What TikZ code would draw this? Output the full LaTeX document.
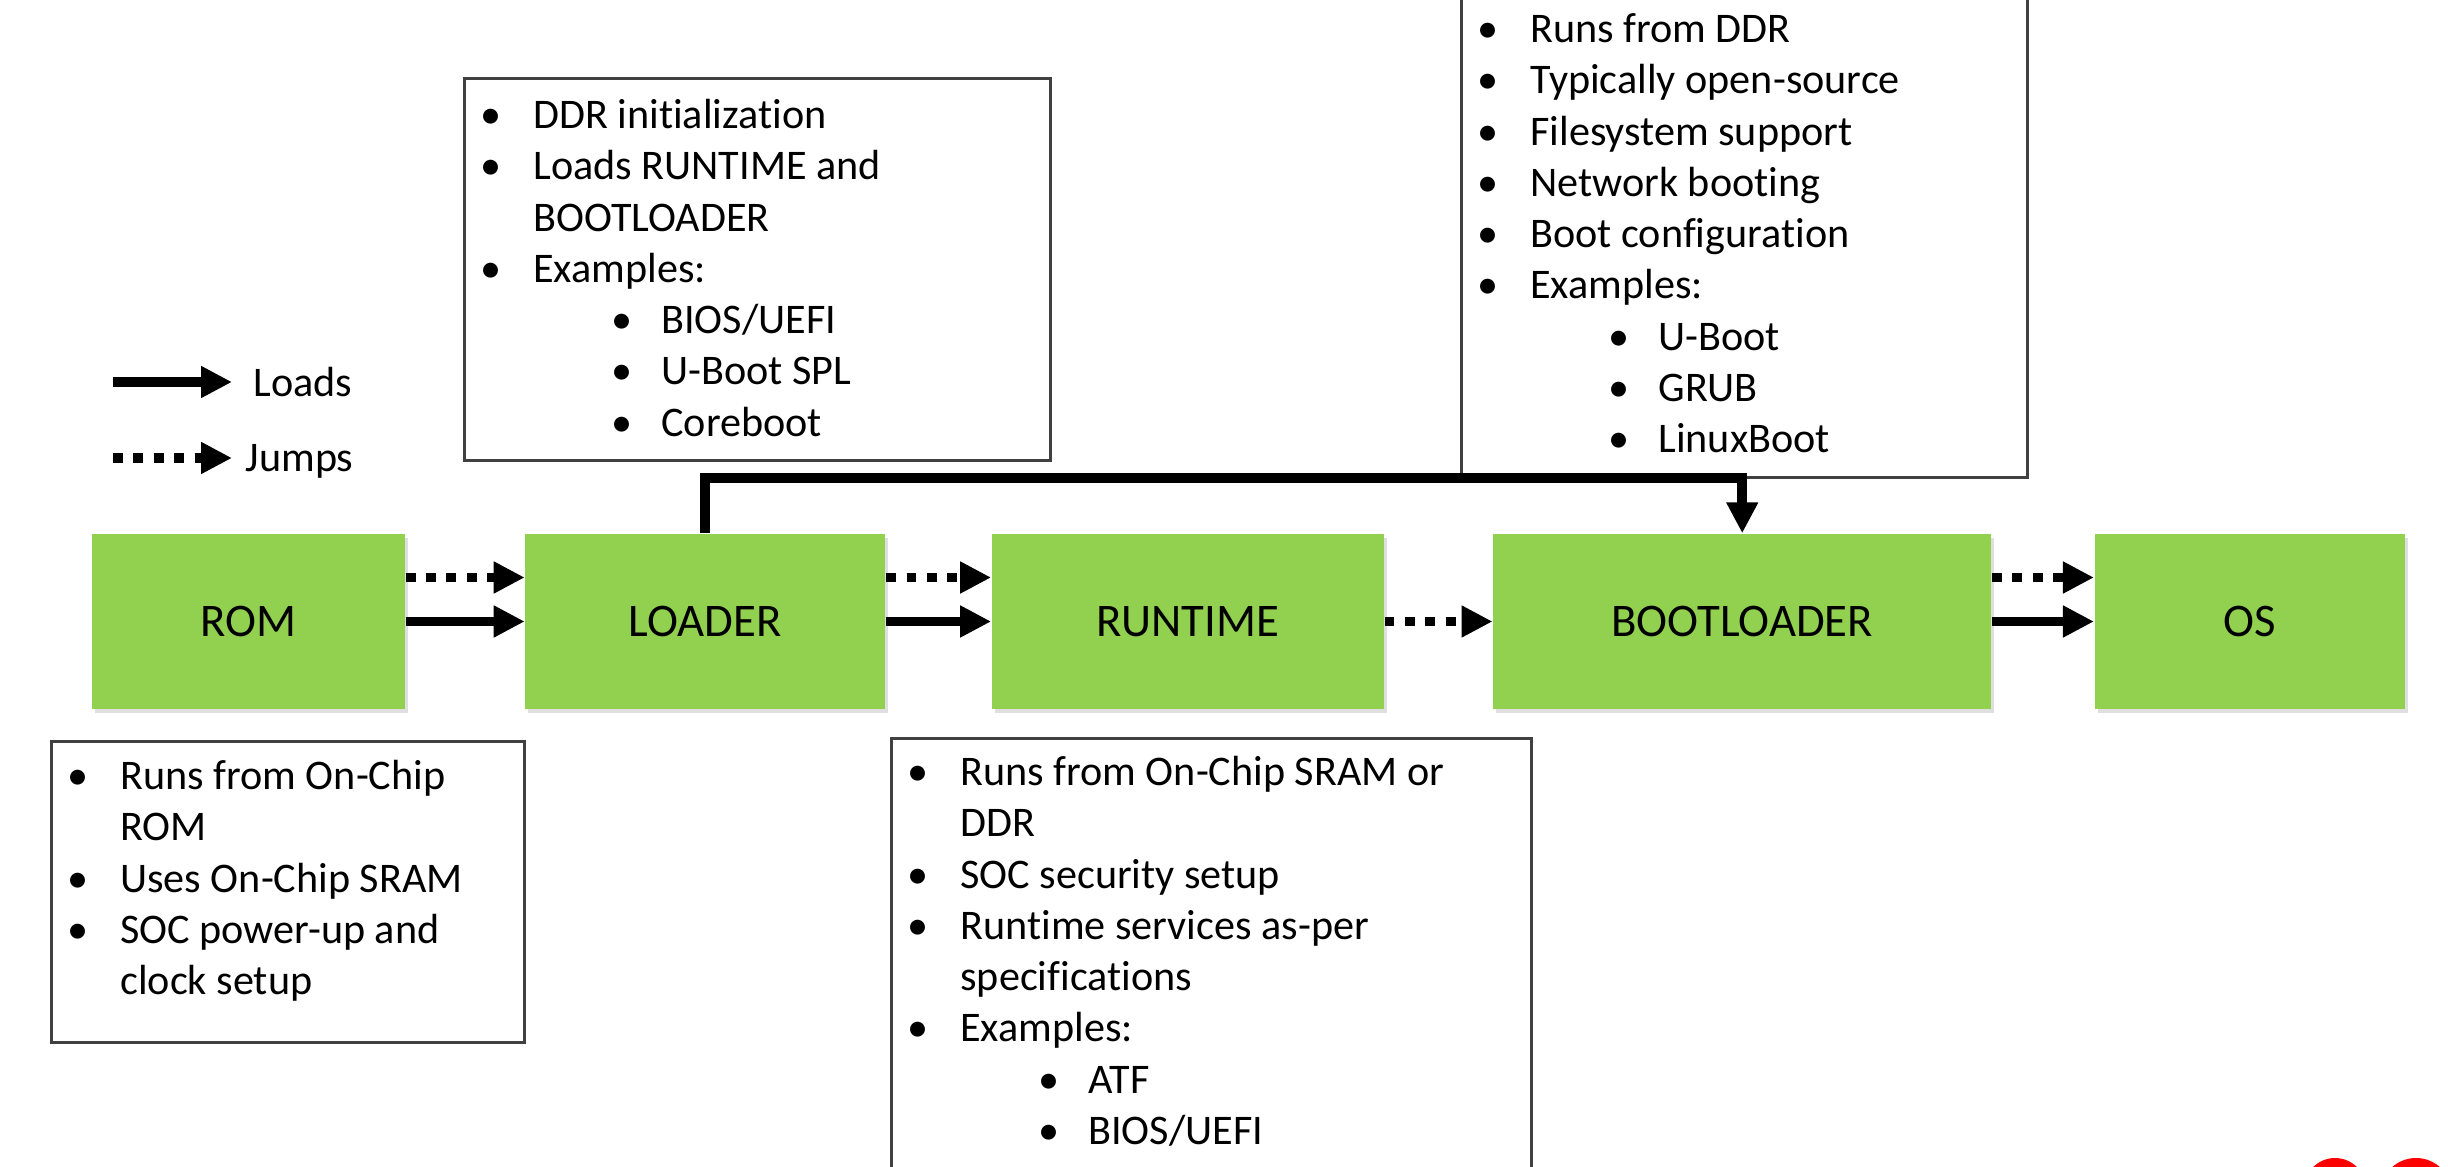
\documentclass[tikz,border=0pt]{standalone}
\usepackage{fontspec}
\setmainfont{Carlito}[Ligatures=NoCommon]
\usepackage{tikz}
\usetikzlibrary{calc,positioning,shapes,shadows,arrows.meta}
\definecolor{bootgreen}{HTML}{92D050}
\newcommand{\noteitem}[1]{\makebox[0.69cm][l]{\makebox[0.54cm][c]{\textbullet}}#1}
\newcommand{\notemore}[1]{\hspace*{0.69cm}#1}
\newcommand{\notesub}[1]{\hspace*{1.31cm}\makebox[0.66cm][l]{\makebox[0.54cm][c]{\textbullet}}#1}
\tikzset{
	stage/.style={fill=bootgreen,minimum height=1.75cm,inner sep=0,font=\fontsize{13.3}{16}\selectfont,drop shadow={shadow xshift=0.03cm,shadow yshift=-0.04cm,opacity=0.25}},
	note/.style={draw=black!75,line width=0.8pt,inner sep=0,anchor=north west,align=flush left,font=\fontsize{12}{14.6}\selectfont},
	legendtext/.style={inner sep=0,text depth=0pt,font=\fontsize{12}{14.6}\selectfont},
	loadarrow/.style={line width=2.8pt,-{Triangle[length=0.31cm,width=0.3cm]}},
	jumparrow/.style={loadarrow,dash pattern=on 2.8pt off 3pt}
}

\begin{document}
\begin{tikzpicture}
	\useasboundingbox (0,0) rectangle (24.48,-11.67);
	\clip (0,0) rectangle (24.48,-11.67);
	\node(rom) [stage,minimum width=3.13cm] at (2.485,-6.215) {ROM};
	\node(loader) [stage,minimum width=3.6cm,right=1.19 of rom] {LOADER};
	\node(runtime) [stage,minimum width=3.92cm,right=1.05 of loader] {RUNTIME};
	\node(bootloader) [stage,minimum width=4.98cm,right=1.08 of runtime] {BOOTLOADER};
	\node(os) [stage,minimum width=3.1cm,right=1.02 of bootloader] {OS};

	\node(loadernote) [note,text width=5.86cm,text height=0.5cm,text depth=3.32cm] at (4.63,-0.77) {
		\noteitem{DDR initialization}\\
		\noteitem{Loads RUNTIME and}\\
		\notemore{BOOTLOADER}\\
		\noteitem{Examples:}\\
		\notesub{BIOS/UEFI}\\
		\notesub{U-Boot SPL}\\
		\notesub{Coreboot}};
	\node(bootnote) [note,text width=5.66cm,text height=0.71cm,text depth=4.35cm] at (14.60,0.3) {
		\noteitem{Runs from DDR}\\
		\noteitem{Typically open-source}\\
		\noteitem{Filesystem support}\\
		\noteitem{Network booting}\\
		\noteitem{Boot configuration}\\
		\noteitem{Examples:}\\
		\notesub{U-Boot}\\
		\notesub{GRUB}\\
		\notesub{LinuxBoot}};
	\node(romnote) [note,text width=4.73cm,text height=0.48cm,text depth=2.53cm] at (0.50,-7.40) {
		\noteitem{Runs from On-Chip}\\
		\notemore{ROM}\\
		\noteitem{Uses On-Chip SRAM}\\
		\noteitem{SOC power-up and}\\
		\notemore{clock setup}};
	\node(runnote) [note,text width=6.40cm,text height=0.47cm,text depth=4.2cm] at (8.90,-7.37) {
		\noteitem{Runs from On-Chip SRAM or}\\
		\notemore{DDR}\\
		\noteitem{SOC security setup}\\
		\noteitem{Runtime services as-per}\\
		\notemore{specifications}\\
		\noteitem{Examples:}\\
		\notesub{ATF}\\
		\notesub{BIOS/UEFI}};

	\coordinate (ls) at (1.13,-3.82);
	\coordinate (le) at (2.32,-3.82);
	\draw[loadarrow] (ls) -- (le);
	\node(loads) [legendtext,right=0.21 of le] {Loads};
	\coordinate (js) at (1.13,-4.58);
	\coordinate (je) at (2.32,-4.58);
	\draw[jumparrow] (js) -- (je);
	\node(jumps) [legendtext,right=0.13 of je] {Jumps};

	\draw[jumparrow] ([yshift=0.44cm]rom.east) -- ([yshift=0.44cm]loader.west);
	\draw[loadarrow] (rom) -- (loader);
	\draw[jumparrow] ([yshift=0.44cm]loader.east) -- ([yshift=0.44cm]runtime.west);
	\draw[loadarrow] (loader) -- (runtime);
	\draw[jumparrow] (runtime) -- (bootloader);
	\draw[jumparrow] ([yshift=0.44cm]bootloader.east) -- ([yshift=0.44cm]os.west);
	\draw[loadarrow] (bootloader) -- (os);
	\draw[loadarrow] (loader.north) -- ++(0,0.55) -| (bootloader.north);

	\fill[red] (23.35,-11.89) circle (0.31) (24.16,-11.94) circle (0.36);
\end{tikzpicture}
\end{document}
